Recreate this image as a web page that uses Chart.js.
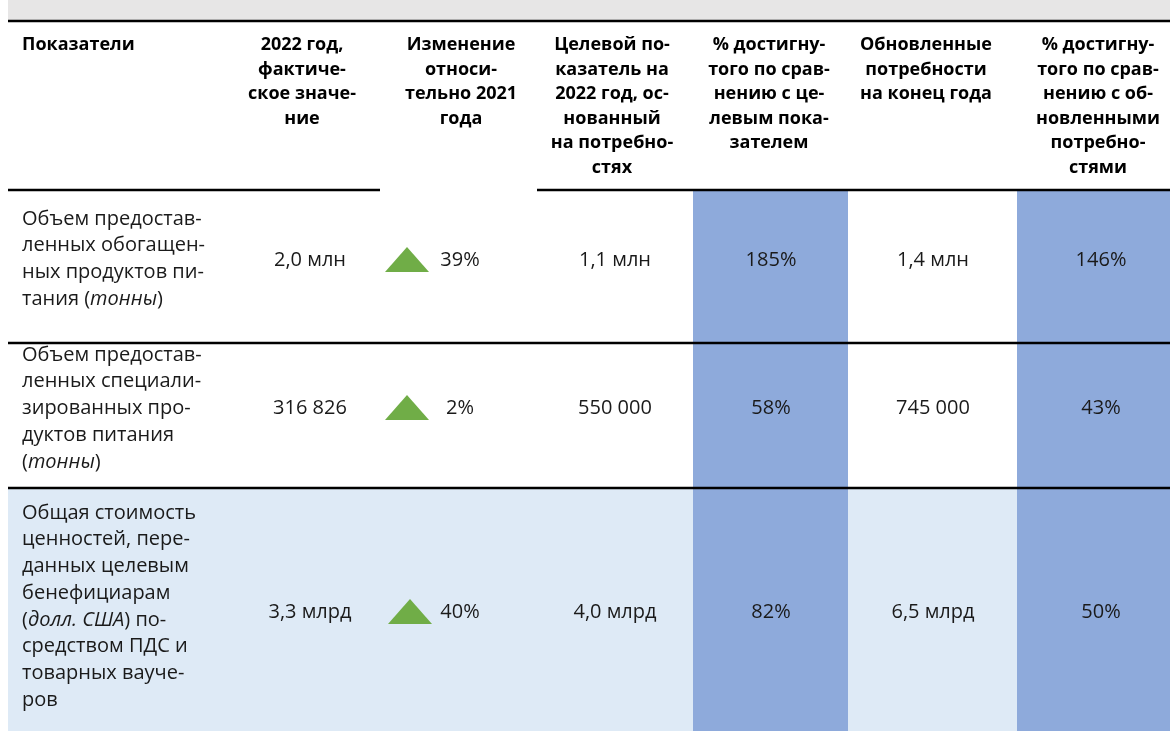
<!DOCTYPE html>
<html><head><meta charset="utf-8">
<script src="https://cdn.jsdelivr.net/npm/chart.js@4.4.1/dist/chart.umd.min.js"></script>
<style>html,body{margin:0;padding:0;background:#fff;overflow:hidden}#wrap{width:1170px;height:731px;position:relative}</style>
</head><body><div id="wrap"><canvas id="c" width="1170" height="731"></canvas></div>
<script>
// ---------- DATA ----------
const headers = [
  ['Показатели'],
  ['2022 год,', 'фактиче-', 'ское значе-', 'ние'],
  ['Изменение', 'относи-', 'тельно 2021', 'года'],
  ['Целевой по-', 'казатель на', '2022 год, ос-', 'нованный', 'на потребно-', 'стях'],
  ['% достигну-', 'того по срав-', 'нению с це-', 'левым пока-', 'зателем'],
  ['Обновленные', 'потребности', 'на конец года'],
  ['% достигну-', 'того по срав-', 'нению с об-', 'новленными', 'потребно-', 'стями']
];
const indicators = [
  ['Объем предостав-', 'ленных обогащен-', 'ных продуктов пи-', 'тания (*тонны*)'],
  ['Объем предостав-', 'ленных специали-', 'зированных про-', 'дуктов питания', '(*тонны*)'],
  ['Общая стоимость', 'ценностей, пере-', 'данных целевым', 'бенефициарам', '(*долл. США*) по-', 'средством ПДС и', 'товарных вауче-', 'ров']
];
const actual2022   = ['2,0 млн', '316 826', '3,3 млрд'];
const changeVs2021 = [39, 2, 40];
const target2022   = ['1,1 млн', '550 000', '4,0 млрд'];
const pctOfTarget  = [185, 58, 82];
const updatedNeeds = ['1,4 млн', '745 000', '6,5 млрд'];
const pctOfUpdated = [146, 43, 50];

// ---------- LAYOUT ----------
const W = 1170, H = 731;
const tableLeft = 8;
const colEdges = [8, 225, 380, 537, 693, 848, 1017, 1185];
const headerCenters = [22, 302, 461, 612, 769, 926, 1098];
const valueCenters  = [22, 310, 460, 615, 771, 933, 1101];
const headerFirstY = 45, headerStep = 24.5;
const bandBottom = 20, topRule = 21, headRule = 190, rowRules = [343, 488];
const rowTops = [191, 344, 489];
const rowBottoms = [343, 488, 731];
const valueY = [260, 408, 612];
const labelFirstY = [219, 355, 513];
const labelStep = 26.7;
const triOffset = [-53, -53, -50];
const headRuleGap = [380, 537];

const C = {
  band: '#e7e6e6', rule: '#000000', blue: '#8eaadb', lightBlue: '#deeaf6',
  green: '#70ad47', text: '#1a1a1a', head: '#000000'
};
const FONT = "'Open Sans', 'Noto Sans', sans-serif";

// triangle point image
const tri = document.createElement('canvas');
tri.width = 44; tri.height = 25;
(function(){
  const t = tri.getContext('2d');
  t.fillStyle = C.green;
  t.beginPath(); t.moveTo(0, 25); t.lineTo(22, 0); t.lineTo(44, 25); t.closePath(); t.fill();
})();

function drawRuns(ctx, str, x, y, size, align) {
  const parts = str.split('*');
  const fonts = parts.map((p, i) => (i % 2 ? 'italic ' : '') + size + 'px ' + FONT);
  let total = 0;
  parts.forEach((p, i) => { ctx.font = fonts[i]; total += ctx.measureText(p).width; });
  let cx = align === 'center' ? x - total / 2 : x;
  ctx.textAlign = 'left';
  parts.forEach((p, i) => { ctx.font = fonts[i]; ctx.fillText(p, cx, y); cx += ctx.measureText(p).width; });
}

const tablePlugin = {
  id: 'tablePlugin',
  beforeDatasetsDraw(chart) {
    const ctx = chart.ctx, xs = chart.scales.x, ys = chart.scales.y;
    const px = v => xs.getPixelForValue(v), py = v => ys.getPixelForValue(v);
    ctx.save();
    ctx.fillStyle = C.band;
    ctx.fillRect(px(tableLeft), py(0), px(W) - px(tableLeft), py(bandBottom) - py(0));
    ctx.fillStyle = C.lightBlue;
    ctx.fillRect(px(tableLeft), py(rowTops[2]), px(W) - px(tableLeft), py(rowBottoms[2]) - py(rowTops[2]));
    ctx.fillStyle = C.blue;
    [4, 6].forEach(c => {
      ctx.fillRect(px(colEdges[c]), py(headRule), px(colEdges[c + 1]) - px(colEdges[c]), py(H) - py(headRule));
    });
    ctx.strokeStyle = C.rule; ctx.lineWidth = 2.6;
    const hline = (y, x0, x1) => { ctx.beginPath(); ctx.moveTo(px(x0), py(y)); ctx.lineTo(px(x1), py(y)); ctx.stroke(); };
    hline(topRule, tableLeft, W);
    hline(headRule, tableLeft, headRuleGap[0]);
    hline(headRule, headRuleGap[1], W);
    rowRules.forEach(y => hline(y, tableLeft, W));
    ctx.restore();
  },
  afterDatasetsDraw(chart) {
    const ctx = chart.ctx, xs = chart.scales.x, ys = chart.scales.y;
    const px = v => xs.getPixelForValue(v), py = v => ys.getPixelForValue(v);
    ctx.save();
    ctx.textBaseline = 'middle';
    ctx.fillStyle = C.head;
    headers.forEach((lines, c) => {
      lines.forEach((ln, i) => {
        ctx.font = 'bold 18px ' + FONT;
        ctx.textAlign = c === 0 ? 'left' : 'center';
        ctx.fillText(ln, px(headerCenters[c]), py(headerFirstY + i * headerStep));
      });
    });
    ctx.fillStyle = C.text;
    indicators.forEach((lines, r) => {
      lines.forEach((ln, i) => drawRuns(ctx, ln, px(valueCenters[0]), py(labelFirstY[r] + i * labelStep), 20, 'left'));
      const cells = [actual2022[r], changeVs2021[r] + '%', target2022[r], pctOfTarget[r] + '%', updatedNeeds[r], pctOfUpdated[r] + '%'];
      cells.forEach((txt, k) => drawRuns(ctx, txt, px(valueCenters[k + 1]), py(valueY[r]), 20, 'center'));
    });
    ctx.restore();
  }
};

new Chart(document.getElementById('c'), {
  type: 'scatter',
  data: {
    datasets: [{
      label: 'Изменение относительно 2021 года',
      data: changeVs2021.map((v, i) => ({ x: valueCenters[2] + triOffset[i], y: valueY[i] - 0.5, v })),
      pointStyle: tri,
      pointRadius: 12,
      pointHoverRadius: 12,
      clip: false
    }]
  },
  options: {
    responsive: false, animation: false, events: [],
    layout: { padding: 0, autoPadding: false },
    plugins: { legend: { display: false }, tooltip: { enabled: false }, title: { display: false } },
    scales: {
      x: { type: 'linear', min: 0, max: W, display: false },
      y: { type: 'linear', min: 0, max: H, reverse: true, display: false }
    }
  },
  plugins: [tablePlugin]
});
</script></body></html>
